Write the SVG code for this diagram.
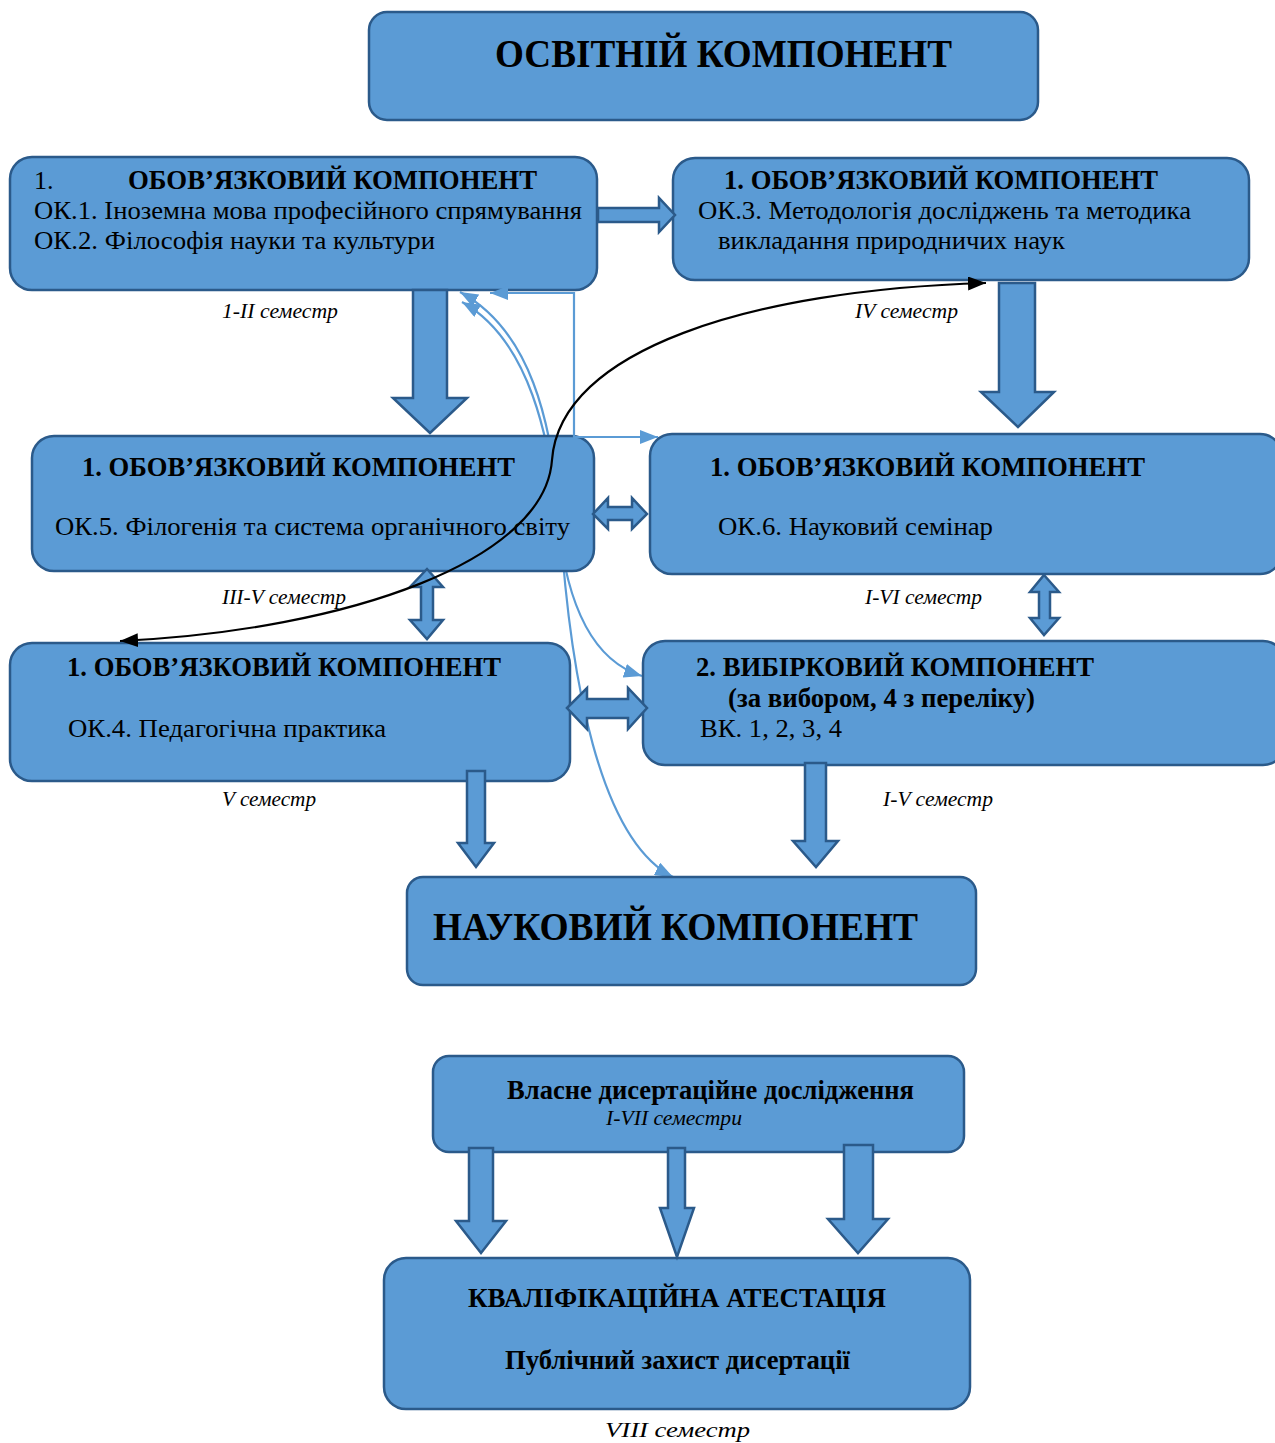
<svg xmlns="http://www.w3.org/2000/svg" width="1275" height="1443" viewBox="0 0 1275 1443">
<style>
.box{fill:#5B9BD5;stroke:#2B5A8A;stroke-width:2.5}
.barrow{fill:#5B9BD5;stroke:#2B5A8A;stroke-width:2.5;stroke-linejoin:miter}
.t{font-family:"Liberation Serif","Times New Roman",serif;fill:#000}
.h{font-size:27px;font-weight:bold}
.b{font-size:26px}
.big{font-size:40px;font-weight:bold}
.sem{font-size:20px;font-style:italic}
.thin{fill:none;stroke:#5B9BD5;stroke-width:2.2}
.blk{fill:none;stroke:#000;stroke-width:2.2}
</style>
<defs>
<marker id="mb" markerUnits="userSpaceOnUse" markerWidth="18" markerHeight="14" refX="18" refY="7" orient="auto-start-reverse" viewBox="0 0 18 14"><path d="M0,0 L18,7 L0,14 z" fill="#5B9BD5"/></marker>
<marker id="mk" markerUnits="userSpaceOnUse" markerWidth="18" markerHeight="14" refX="18" refY="7" orient="auto-start-reverse" viewBox="0 0 18 14"><path d="M0,0 L18,7 L0,14 z" fill="#000"/></marker>
</defs>
<rect width="1275" height="1443" fill="#fff"/>

<g id="connectors-back">
<path class="thin" d="M460,292 C530,330 552,420 560,520 C570,680 600,840 673,877" marker-start="url(#mb)" marker-end="url(#mb)"/>
<path class="thin" d="M462,302 C530,340 550,440 558,520 C566,600 590,660 642,676" marker-start="url(#mb)" marker-end="url(#mb)"/>
</g>

<g id="node-osvitniy">
<rect class="box" x="369" y="12" width="669" height="108" rx="18"/>
<text class="t big" x="495" y="67" textLength="457" lengthAdjust="spacingAndGlyphs">ОСВІТНІЙ КОМПОНЕНТ</text>
</g>

<g id="node-ok12">
<rect class="box" x="10" y="157" width="587" height="133" rx="22"/>
<text class="t b" x="34" y="189">1.</text>
<text class="t h" x="128" y="189" textLength="409" lengthAdjust="spacingAndGlyphs">ОБОВ’ЯЗКОВИЙ КОМПОНЕНТ</text>
<text class="t b" x="34" y="219" textLength="548" lengthAdjust="spacingAndGlyphs">ОК.1. Іноземна мова професійного спрямування</text>
<text class="t b" x="34" y="249" textLength="401" lengthAdjust="spacingAndGlyphs">ОК.2. Філософія науки та культури</text>
</g>

<g id="node-ok3">
<rect class="box" x="673" y="158" width="576" height="122" rx="22"/>
<text class="t h" x="724" y="189" textLength="434" lengthAdjust="spacingAndGlyphs">1. ОБОВ’ЯЗКОВИЙ КОМПОНЕНТ</text>
<text class="t b" x="698" y="219" textLength="493" lengthAdjust="spacingAndGlyphs">ОК.3. Методологія досліджень та методика</text>
<text class="t b" x="718" y="249" textLength="347" lengthAdjust="spacingAndGlyphs">викладання природничих наук</text>
</g>

<g id="node-ok5">
<rect class="box" x="32" y="436" width="562" height="135" rx="22"/>
<text class="t h" x="82" y="476" textLength="433" lengthAdjust="spacingAndGlyphs">1. ОБОВ’ЯЗКОВИЙ КОМПОНЕНТ</text>
<text class="t b" x="55" y="535" textLength="515" lengthAdjust="spacingAndGlyphs">ОК.5. Філогенія та система органічного світу</text>
</g>

<g id="node-ok6">
<rect class="box" x="650" y="434" width="632" height="140" rx="22"/>
<text class="t h" x="710" y="476" textLength="435" lengthAdjust="spacingAndGlyphs">1. ОБОВ’ЯЗКОВИЙ КОМПОНЕНТ</text>
<text class="t b" x="718" y="535" textLength="275" lengthAdjust="spacingAndGlyphs">ОК.6. Науковий семінар</text>
</g>

<g id="node-ok4">
<rect class="box" x="10" y="643" width="560" height="138" rx="22"/>
<text class="t h" x="67" y="676" textLength="434" lengthAdjust="spacingAndGlyphs">1. ОБОВ’ЯЗКОВИЙ КОМПОНЕНТ</text>
<text class="t b" x="68" y="737" textLength="318" lengthAdjust="spacingAndGlyphs">ОК.4. Педагогічна практика</text>
</g>

<g id="node-vk">
<rect class="box" x="643" y="641" width="642" height="124" rx="22"/>
<text class="t h" x="696" y="676" textLength="398" lengthAdjust="spacingAndGlyphs">2. ВИБІРКОВИЙ КОМПОНЕНТ</text>
<text class="t h" x="728" y="707" textLength="307" lengthAdjust="spacingAndGlyphs">(за вибором, 4 з переліку)</text>
<text class="t b" x="700" y="737" textLength="142" lengthAdjust="spacingAndGlyphs">ВК. 1, 2, 3, 4</text>
</g>

<g id="node-naukovyi">
<rect class="box" x="407" y="877" width="569" height="108" rx="16"/>
<text class="t big" x="433" y="940" textLength="485" lengthAdjust="spacingAndGlyphs">НАУКОВИЙ КОМПОНЕНТ</text>
</g>

<g id="node-dysertatsiya">
<rect class="box" x="433" y="1056" width="531" height="96" rx="16"/>
<text class="t h" x="507" y="1099" font-size="25" textLength="407" lengthAdjust="spacingAndGlyphs">Власне дисертаційне дослідження</text>
<text class="t sem" x="606" y="1125" textLength="136" lengthAdjust="spacingAndGlyphs">I-VII семестри</text>
</g>

<g id="node-atestatsiya">
<rect class="box" x="384" y="1258" width="586" height="151" rx="22"/>
<text class="t h" x="468" y="1307" textLength="418" lengthAdjust="spacingAndGlyphs">КВАЛІФІКАЦІЙНА АТЕСТАЦІЯ</text>
<text class="t h" x="505" y="1369" textLength="345" lengthAdjust="spacingAndGlyphs">Публічний захист дисертації</text>
</g>

<g id="labels">
<text class="t sem" x="222" y="318" textLength="116" lengthAdjust="spacingAndGlyphs">1-II семестр</text>
<text class="t sem" x="855" y="318" textLength="103" lengthAdjust="spacingAndGlyphs">IV семестр</text>
<text class="t sem" x="222" y="604" textLength="124" lengthAdjust="spacingAndGlyphs">III-V семестр</text>
<text class="t sem" x="865" y="604" textLength="117" lengthAdjust="spacingAndGlyphs">I-VI семестр</text>
<text class="t sem" x="222" y="806" textLength="94" lengthAdjust="spacingAndGlyphs">V семестр</text>
<text class="t sem" x="883" y="806" textLength="110" lengthAdjust="spacingAndGlyphs">I-V семестр</text>
<text class="t sem" x="605" y="1437" font-size="25" textLength="145" lengthAdjust="spacingAndGlyphs">VIII семестр</text>
</g>

<g id="connectors">
<polygon class="barrow" points="598,208 659,208 659,198 675,215 659,232 659,222 598,222"/>
<polygon class="barrow" points="413,290 447,290 447,398 467,398 430,433 393,398 413,398"/>
<polygon class="barrow" points="999,283 1035,283 1035,392 1054,392 1018,427 981,392 999,392"/>
<polygon class="barrow" points="593,514 608,498 608,507 632,507 632,498 647,514 632,529 632,520 608,520 608,529"/>
<polygon class="barrow" points="427,569 443,587 433,587 433,620 443,620 427,639 410,620 421,620 421,587 410,587"/>
<polygon class="barrow" points="1044,575 1059,592 1050,592 1050,618 1059,618 1044,635 1030,618 1039,618 1039,592 1030,592"/>
<polygon class="barrow" points="567,708 587,688 587,699 628,699 628,688 647,708 628,729 628,718 587,718 587,729"/>
<polygon class="barrow" points="467,771 485,771 485,843 494,843 476,867 458,843 467,843"/>
<polygon class="barrow" points="805,763 826,763 826,841 838,841 816,867 793,841 805,841"/>
<polygon class="barrow" points="469,1148 493,1148 493,1221 506,1221 481,1253 456,1221 469,1221"/>
<polygon class="barrow" points="668,1148 685,1148 685,1208 694,1208 677,1257 660,1208 668,1208"/>
<polygon class="barrow" points="844,1145 873,1145 873,1219 888,1219 858,1253 828,1219 844,1219"/>
<polyline class="thin" points="490,293 574,293 574,437 658,437" marker-start="url(#mb)" marker-end="url(#mb)"/>
<path class="blk" d="M986,283 C750,290 560,350 552,460 C545,560 350,630 120,641" marker-start="url(#mk)" marker-end="url(#mk)"/>
</g>
</svg>
